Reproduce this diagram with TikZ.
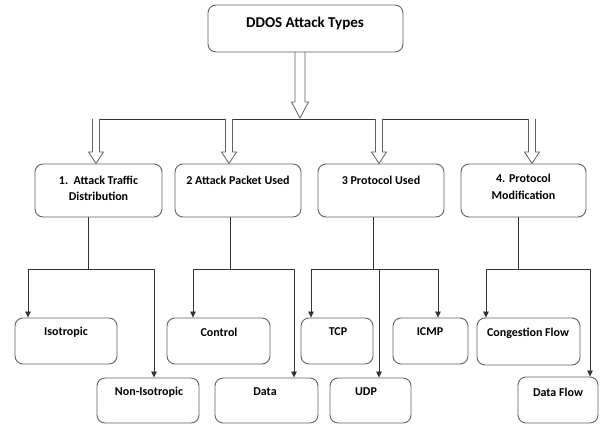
\documentclass[tikz,border=0pt]{standalone}
\usepackage{fontspec}
\setmainfont{Carlito}
\usetikzlibrary{calc,arrows.meta}
\begin{document}
\begin{tikzpicture}[x=1pt,y=-1pt,
  box/.style={draw=black!62, line width=0.9pt, rounded corners=8pt, fill=white, inner sep=0pt},
  conn/.style={draw=black!80, line width=0.8pt},
  arr/.style={conn, -{Triangle[length=6pt,width=5.5pt]}},
  hollow/.style={draw=black!62, fill=white, line width=0.8pt},
  lab/.style={font=\bfseries\fontsize{12}{16.5}\selectfont, align=center, inner sep=0pt},
  biglab/.style={font=\bfseries\fontsize{15}{18}\selectfont, inner sep=0pt},
  hol/.pic={\draw[hollow] (-3.5,0) -- (-3.5,33) -- (-7.5,33) -- (0,44.5) -- (7.5,33) -- (3.5,33) -- (3.5,0);}
]
\useasboundingbox[fill=white] (0,0) rectangle (600,425);

% root and big hollow arrow
\draw[hollow] (295,52) -- (295,102) -- (291.5,102) -- (300,118) -- (308.5,102) -- (305,102) -- (305,52);
\node[box, minimum width=195pt, minimum height=47pt] (root) at (305.5,28.5) {};
\node[biglab] (rootT) at (305,23) {DDOS Attack Types};

% bar and small hollow arrows
\coordinate (barL) at (92.5,119);
\coordinate (barR) at (535.5,119);
\draw[conn] (barL) -- (barR);
\pic at (96,119) {hol};
\pic at (229,119) {hol};
\pic at (379,119) {hol};
\pic at (532,119) {hol};

% level 2 boxes
\node[box, minimum width=127pt, minimum height=53pt] (L1) at (98.5,190.5) {};
\node[box, minimum width=126pt, minimum height=53pt] (L2) at (238,190.5) {};
\node[box, minimum width=126pt, minimum height=53pt] (L3) at (381,190.5) {};
\node[box, minimum width=125pt, minimum height=53pt] (L4) at (523.5,190.5) {};
\node[lab] at (98.5,188.5) {1.\ \ Attack Traffic\\Distribution};
\node[lab] at (238,180) {2 Attack Packet Used};
\node[lab] at (381,180) {3 Protocol Used};
\node[lab] at (523.5,187) {4. Protocol\\Modification};

% leaf boxes
\node[box, minimum width=102pt, minimum height=46pt] (iso) at (66,341) {};
\node[box, minimum width=102pt, minimum height=45pt] (noniso) at (148,400.5) {};
\node[box, minimum width=103pt, minimum height=46pt] (ctrl) at (218.5,341) {};
\node[box, minimum width=103pt, minimum height=45pt] (data) at (266.5,400.5) {};
\node[box, minimum width=72pt, minimum height=46pt] (tcp) at (337,341) {};
\node[box, minimum width=75pt, minimum height=46pt] (icmp) at (430.5,341) {};
\node[box, minimum width=81pt, minimum height=45pt] (udp) at (370.5,400.5) {};
\node[box, minimum width=103pt, minimum height=47pt] (cong) at (528.5,341.5) {};
\node[box, minimum width=80pt, minimum height=46pt] (dflow) at (558,400) {};

\node[lab] at (66,332) {Isotropic};
\node[lab] at (149,392) {Non-Isotropic};
\node[lab] at (219,332) {Control};
\node[lab] at (265,392) {Data};
\node[lab] at (338,332) {TCP};
\node[lab] at (430,332) {ICMP};
\node[lab] at (366,392) {UDP};
\node[lab] at (528,333) {Congestion Flow};
\node[lab] at (558,392) {Data Flow};

% branch 1
\coordinate (j1) at (88,269);
\coordinate (a1l) at (28,269);
\coordinate (a1r) at (154,269);
\draw[conn] (L1.south -| j1) -- (j1);
\draw[conn] (a1l) -- (a1r);
\draw[arr] (a1l) -- (a1l |- iso.north);
\draw[arr] (a1r) -- (a1r |- noniso.north);

% branch 2
\coordinate (j2) at (230,269);
\coordinate (a2l) at (193,269);
\coordinate (a2r) at (294,269);
\draw[conn] (L2.south -| j2) -- (j2);
\draw[conn] (a2l) -- (a2r);
\draw[arr] (a2l) -- (a2l |- ctrl.north);
\draw[arr] (a2r) -- (a2r |- data.north);

% branch 3
\coordinate (j3) at (373,269);
\coordinate (a3l) at (311,269);
\coordinate (a3m) at (379,269);
\coordinate (a3r) at (438,269);
\draw[conn] (L3.south -| j3) -- (j3);
\draw[conn] (a3l) -- (a3r);
\draw[arr] (a3l) -- (a3l |- tcp.north);
\draw[arr] (a3m) -- (a3m |- udp.north);
\draw[arr] (a3r) -- (a3r |- icmp.north);

% branch 4
\coordinate (j4) at (518,269);
\coordinate (a4l) at (486,269);
\coordinate (a4r) at (590,269);
\draw[conn] (L4.south -| j4) -- (j4);
\draw[conn] (a4l) -- (a4r);
\draw[arr] (a4l) -- (a4l |- cong.north);
\draw[arr] (a4r) -- (a4r |- dflow.north);
\end{tikzpicture}
\end{document}
